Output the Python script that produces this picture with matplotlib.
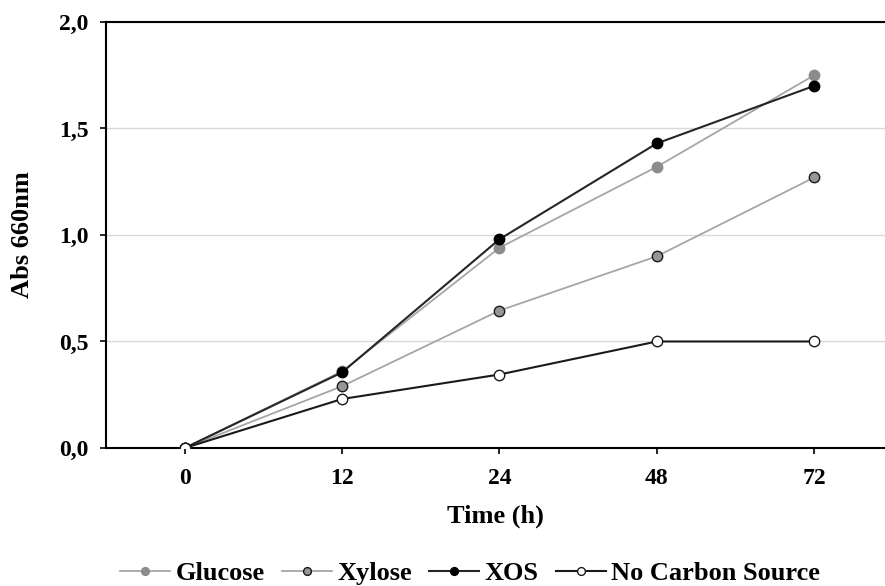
import matplotlib
matplotlib.use("Agg")
import matplotlib.pyplot as plt

plt.rcParams['font.family'] = ['Liberation Serif', 'DejaVu Serif']
plt.rcParams['font.weight'] = 'bold'

times = ["0", "12", "24", "48", "72"]
glucose = [0.0, 0.36, 0.94, 1.32, 1.75]
xylose = [0.0, 0.29, 0.645, 0.90, 1.27]
xos = [0.0, 0.355, 0.98, 1.43, 1.70]
no_carbon = [0.0, 0.23, 0.345, 0.50, 0.50]
yticks = [0.0, 0.5, 1.0, 1.5, 2.0]
ytick_labels = ["0,0", "0,5", "1,0", "1,5", "2,0"]

fig = plt.figure(figsize=(8.85, 5.86), dpi=100)
ax = fig.add_axes([0.1198, 0.2355, 0.8802, 0.727])

x = list(range(len(times)))
ms = 7.5
ax.plot(x, glucose, color='#a6a6a6', lw=1.3, marker='o', ms=ms,
        mfc='#8c8c8c', mec='#8c8c8c', label='Glucose', zorder=3)
ax.plot(x, xylose, color='#a6a6a6', lw=1.3, marker='o', ms=ms,
        mfc='#969696', mec='#1a1a1a', mew=1.0, label='Xylose', zorder=3)
ax.plot(x, xos, color='#262626', lw=1.5, marker='o', ms=ms,
        mfc='black', mec='black', label='XOS', zorder=4)
ax.plot(x, no_carbon, color='#1a1a1a', lw=1.5, marker='o', ms=ms,
        mfc='white', mec='#1a1a1a', mew=1.0, label='No Carbon Source', zorder=5)

ax.set_xlim(-0.5, 4.45)
ax.set_ylim(0, 2.0)
ax.set_xticks(x)
ax.set_xticklabels(times)
ax.set_yticks(yticks)
ax.set_yticklabels(ytick_labels)
ax.yaxis.grid(True, color='#d9d9d9', lw=1.0)
ax.set_axisbelow(True)
for s in ['left', 'bottom', 'top']:
    ax.spines[s].set_linewidth(1.5)
    ax.spines[s].set_color('black')
ax.spines['right'].set_visible(False)
ax.tick_params(axis='both', labelsize=17, length=4.5, width=1.2, direction='out')
ax.tick_params(axis='y', pad=8)
ax.tick_params(axis='x', pad=10)
for lab in ax.get_xticklabels() + ax.get_yticklabels():
    lab.set_fontweight('bold')

ax.set_xlabel('Time (h)', fontsize=19, fontweight='bold', labelpad=11)
ax.set_ylabel('Abs 660nm', fontsize=19, fontweight='bold', labelpad=18)

fig.legend(loc='center', bbox_to_anchor=(0.531, 0.022), ncol=4, frameon=False,
           prop={'weight': 'bold', 'size': 19}, handlelength=1.9,
           handletextpad=0.2, columnspacing=0.65, markerscale=0.75,
           borderaxespad=0, borderpad=0)

fig.savefig('out.png', dpi=100)
